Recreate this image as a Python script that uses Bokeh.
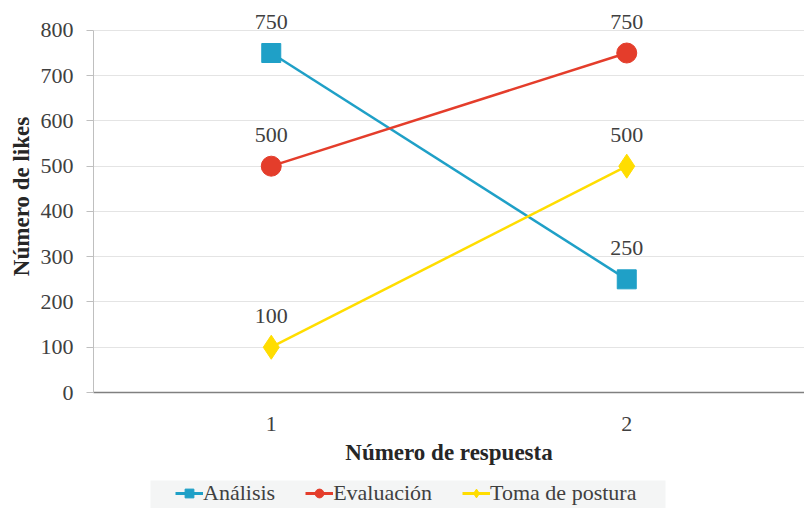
from bokeh.plotting import figure
from bokeh.models import ColumnDataSource, Legend, LegendItem, FixedTicker, Range1d, LabelSet
from bokeh.layouts import column
from bokeh.core.properties import value
from bokeh.embed import file_html
from bokeh.resources import INLINE

respuesta = [1, 2]
analisis = [750, 250]
evaluacion = [500, 750]
toma_postura = [100, 500]
y_ticks = [0, 100, 200, 300, 400, 500, 600, 700, 800]

FONT = "'Liberation Serif', 'Times New Roman', serif"

p = figure(width=804, height=478, output_backend="svg", toolbar_location=None,
           x_range=Range1d(0.5, 2.5), y_range=Range1d(0, 866),
           min_border_left=93, min_border_right=0, min_border_top=0, min_border_bottom=86)
p.outline_line_color = None
p.background_fill_color = "white"
p.border_fill_color = "white"

p.xgrid.grid_line_color = None
p.ygrid.grid_line_color = "#e4e4e4"
p.ygrid.grid_line_width = 1

p.yaxis.ticker = FixedTicker(ticks=y_ticks)
p.xaxis.ticker = FixedTicker(ticks=respuesta)

for ax in p.yaxis:
    ax.bounds = (0, 800)
    ax.axis_line_color = "#bfbfbf"
    ax.major_tick_line_color = "#bfbfbf"
    ax.major_tick_out = 7
    ax.major_tick_in = 0
    ax.minor_tick_line_color = None
    ax.major_label_text_font = FONT
    ax.major_label_text_font_size = "22px"
    ax.major_label_text_color = "#404040"
    ax.major_label_standoff = 13
    ax.axis_label = "Número de likes"
    ax.axis_label_text_font = FONT
    ax.axis_label_text_font_size = "23px"
    ax.axis_label_text_font_style = "bold"
    ax.axis_label_text_color = "#262626"
    ax.axis_label_standoff = 4

for ax in p.xaxis:
    ax.axis_line_color = "#808080"
    ax.axis_line_width = 1.5
    ax.major_tick_line_color = None
    ax.minor_tick_line_color = None
    ax.major_label_text_font = FONT
    ax.major_label_text_font_size = "22px"
    ax.major_label_text_color = "#404040"
    ax.major_label_standoff = 18
    ax.axis_label = "Número de respuesta"
    ax.axis_label_text_font = FONT
    ax.axis_label_text_font_size = "23px"
    ax.axis_label_text_font_style = "bold"
    ax.axis_label_text_color = "#262626"
    ax.axis_label_standoff = 6

series = [
    ("Análisis", analisis, "#1fa0c7", "square", 19, 13),
    ("Evaluación", evaluacion, "#e43d2b", "circle", 20, 14),
    ("Toma de postura", toma_postura, "#ffdd00", "diamond", 24, 17),
]

# separate strip for the legend below the chart (its frame is aligned with the chart's frame)
lf = figure(width=804, height=30, output_backend="svg", toolbar_location=None,
            x_range=Range1d(93, 804), y_range=Range1d(0, 30),
            min_border=0, x_axis_type=None, y_axis_type=None)
lf.outline_line_color = None
lf.grid.grid_line_color = None
lf.background_fill_color = "white"
lf.border_fill_color = "white"
lf.quad(left=150, right=665, bottom=0, top=28, fill_color="#f4f5f5", line_color=None)

items = []
for name, vals, color, marker, size, lsize in series:
    src = ColumnDataSource(dict(x=respuesta, y=vals, lab=[str(v) for v in vals]))
    p.line("x", "y", source=src, line_color=color, line_width=2.5)
    p.scatter("x", "y", source=src, marker=marker, size=size,
              fill_color=color, line_color=color)
    labels = LabelSet(x="x", y="y", text="lab", source=src, y_offset=31,
                      text_align="center", text_baseline="middle",
                      text_font=value(FONT), text_font_size="22px",
                      text_color="#404040")
    p.add_layout(labels)
    dummy = ColumnDataSource(dict(x=[-100, -90], y=[-100, -90]))
    l2 = lf.line("x", "y", source=dummy, line_color=color, line_width=3)
    s2 = lf.scatter("x", "y", source=dummy, marker=marker, size=lsize,
                    fill_color=color, line_color=color)
    items.append(LegendItem(label=name, renderers=[l2, s2]))

legend = Legend(items=items, orientation="horizontal", location=(82, 2),
                label_text_font=FONT, label_text_font_size="22px",
                label_text_color="#404040",
                background_fill_alpha=0, border_line_color=None,
                glyph_width=28, glyph_height=22,
                label_standoff=0, spacing=30, padding=0, margin=0)
lf.add_layout(legend, "center")

layout = column(p, lf, spacing=0)
open("out.html", "w").write(file_html(layout, INLINE))
